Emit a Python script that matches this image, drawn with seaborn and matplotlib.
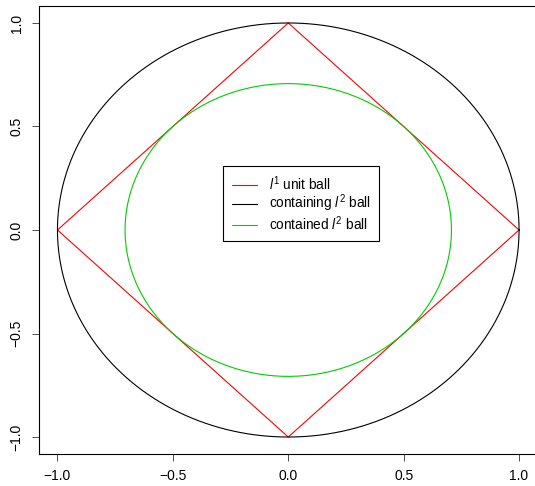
import numpy as np
import pandas as pd
import matplotlib
matplotlib.use("Agg")
import matplotlib.pyplot as plt
import seaborn as sns

# l1 unit ball vertices (closed path)
diamond_x = [1.0, 0.0, -1.0, 0.0, 1.0]
diamond_y = [0.0, 1.0, 0.0, -1.0, 0.0]

# radii of the two l2 balls
outer_radius = 1.0
inner_radius = 0.7071

ticks = [-1.0, -0.5, 0.0, 0.5, 1.0]
tick_labels = ["\u22121.0", "\u22120.5", "0.0", "0.5", "1.0"]

labels = [r"$l^1$ unit ball", r"containing $l^2$ ball", r"contained $l^2$ ball"]
colors = ["#FF0000", "#000000", "#00CD00"]

sns.set_style("ticks")
plt.rcParams["font.family"] = ["Liberation Sans", "DejaVu Sans"]
plt.rcParams["mathtext.fontset"] = "custom"
plt.rcParams["mathtext.rm"] = "Liberation Sans"
plt.rcParams["mathtext.it"] = "Liberation Sans:italic"
plt.rcParams["text.color"] = "black"

fig = plt.figure(figsize=(5.35, 4.86), dpi=100)
ax = fig.add_axes([0.0729, 0.0667, 0.9318, 0.9201])

# circles as parametric curves
theta = np.linspace(0, 2 * np.pi, 400)
circles = pd.DataFrame({
    "x": np.concatenate([outer_radius * np.cos(theta), inner_radius * np.cos(theta)]),
    "y": np.concatenate([outer_radius * np.sin(theta), inner_radius * np.sin(theta)]),
    "ball": [labels[1]] * len(theta) + [labels[2]] * len(theta),
})
poly = pd.DataFrame({"x": diamond_x, "y": diamond_y})

sns.lineplot(data=poly, x="x", y="y", sort=False, estimator=None, color=colors[0],
             lw=0.8, ax=ax, label=labels[0])
for lab, col in zip(labels[1:], colors[1:]):
    sub = circles[circles["ball"] == lab]
    sns.lineplot(data=sub, x="x", y="y", sort=False, estimator=None, color=col,
                 lw=0.8, ax=ax, label=lab)

ax.set_xlim(-1.08, 1.08)
ax.set_ylim(-1.08, 1.08)
ax.set_xticks(ticks)
ax.set_xticklabels(tick_labels)
ax.set_yticks(ticks)
ax.set_yticklabels(tick_labels, rotation=90, va="center")
ax.set_xlabel("")
ax.set_ylabel("")
ax.tick_params(length=5, width=0.6, labelsize=10, pad=6, color="#333333",
               labelcolor="black")
for s in ax.spines.values():
    s.set_linewidth(0.8)
    s.set_color("black")
ax.spines["right"].set_visible(False)

leg = ax.legend(loc="center", bbox_to_anchor=(0.526, 0.559), fontsize=9.8,
                fancybox=False, framealpha=1, edgecolor="black", handlelength=1.9,
                handletextpad=0.85, borderpad=0.6, labelspacing=0.0,
                borderaxespad=0)
leg.get_frame().set_linewidth(0.8)

fig.savefig("out.png", dpi=100)
